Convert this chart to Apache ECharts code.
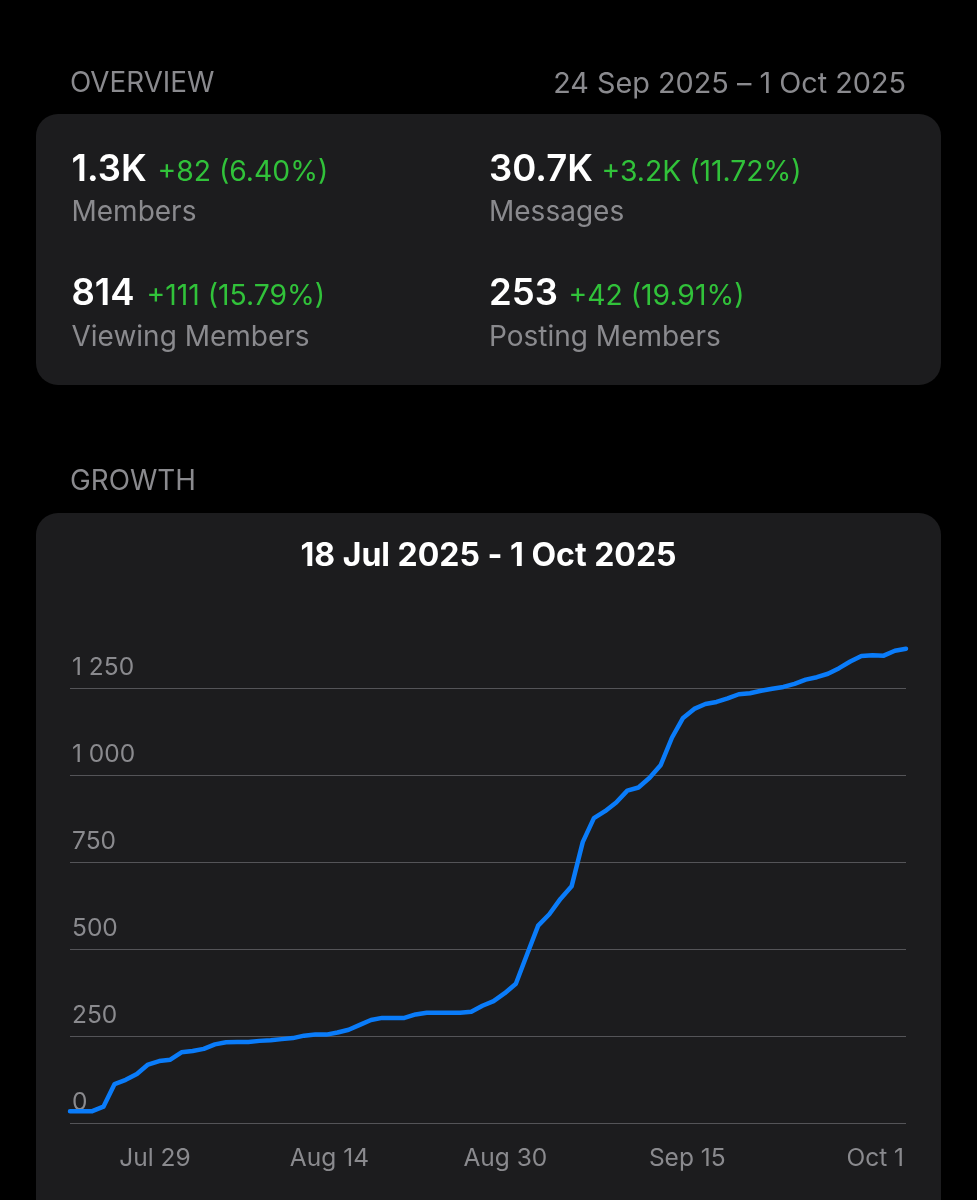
<!DOCTYPE html>
<html><head><meta charset="utf-8">
<style>html,body{margin:0;padding:0;background:#000}#c{width:977px;height:1200px}</style>
<script src="https://cdn.jsdelivr.net/npm/echarts@6/dist/echarts.min.js"></script>
</head><body><div id="c"></div>
<script>
const startDate = [2025, 6, 18];
const members = [34,34,34,47,112,124,141,168,178,182,203,207,213,226,232,233,233,236,238,241,244,251,254,254,260,268,282,296,302,302,302,312,317,317,317,317,320,337,350,373,400,484,567,600,644,680,807,876,896,921,955,964,992,1029,1107,1164,1190,1204,1210,1220,1232,1235,1242,1248,1253,1262,1274,1281,1291,1307,1326,1342,1344,1343,1357,1363];
const xTickLabels = ['Jul 29','Aug 14','Aug 30','Sep 15','Oct 1'];
const statValues = ['1.3K','30.7K','814','253'];
const statDeltas = ['+82 (6.40%)','+3.2K (11.72%)','+111 (15.79%)','+42 (19.91%)'];
const statNames = ['Members','Messages','Viewing Members','Posting Members'];
const statX = [71.5,489,71.5,489];
const deltaX = [157.5,601.5,146.5,568.5];
const statY = [170,294];

const MONTHS=['Jan','Feb','Mar','Apr','May','Jun','Jul','Aug','Sep','Oct','Nov','Dec'];
const categories = members.map((_,i)=>{const d=new Date(startDate[0],startDate[1],startDate[2]+i);return MONTHS[d.getMonth()]+' '+d.getDate();});
const FONT='Inter, "Noto Sans", sans-serif';
const GRAY='#8a8a8e', GREEN='#31c23a';
const t=(x,y,text,size,fill,weight,align)=>({type:'text',x,y,z:5,style:{text,font:(weight||400)+' '+size+'px '+FONT,fill,textAlign:align||'left',textVerticalAlign:'middle'}});
const graphic=[
 {type:'rect',z:-2,shape:{x:36,y:114,width:905,height:271,r:22},style:{fill:'#1c1c1e'}},
 {type:'rect',z:-2,shape:{x:36,y:513,width:905,height:720,r:22},style:{fill:'#1c1c1e'}},
 t(70,84,'OVERVIEW',27.8,GRAY),
 t(906,84,'24 Sep 2025 – 1 Oct 2025',28.8,GRAY,400,'right'),
 t(70,482,'GROWTH',27.8,GRAY),
 t(488.5,556,'18 Jul 2025 - 1 Oct 2025',32,'#fff',700,'center')
];
statValues.forEach((v,i)=>{
 const y=statY[i>>1];
 graphic.push(t(statX[i],y,v,36.5,'#fff',600));
 graphic.push(t(deltaX[i],y+2,statDeltas[i],28.3,GREEN));
 graphic.push(t(statX[i],y+(i>1?44:43),statNames[i],28,GRAY));
});
const chart=echarts.init(document.getElementById('c'),null,{renderer:'canvas',width:977,height:1200});
chart.setOption({
 animation:false,backgroundColor:'#000',
 grid:{left:70,right:71,top:601,bottom:77,containLabel:false},
 xAxis:{type:'category',data:categories,boundaryGap:false,
  axisLine:{show:false},axisTick:{show:false},splitLine:{show:false},
  axisLabel:{interval:(i,v)=>xTickLabels.includes(v),align:'right',margin:23.5,padding:[0,2,0,0],color:GRAY,fontSize:24.5,fontFamily:FONT,hideOverlap:false}},
 yAxis:{type:'value',min:0,max:1500,interval:250,
  axisLine:{show:false},axisTick:{show:false},
  splitLine:{show:true,showMaxLine:false,lineStyle:{color:'#545458',width:1}},
  axisLabel:{inside:true,showMaxLabel:false,align:'left',verticalAlign:'bottom',margin:2,padding:[0,0,8,0],color:GRAY,fontSize:24.5,fontFamily:FONT,
   formatter:v=>String(v).replace(/\B(?=(\d{3})+$)/g,' ')}},
 series:[{type:'line',data:members,symbol:'none',smooth:false,clip:false,z:10,
  lineStyle:{color:'#0a7cfa',width:4.5,cap:'round',join:'round'}}],
 graphic
});
</script></body></html>
